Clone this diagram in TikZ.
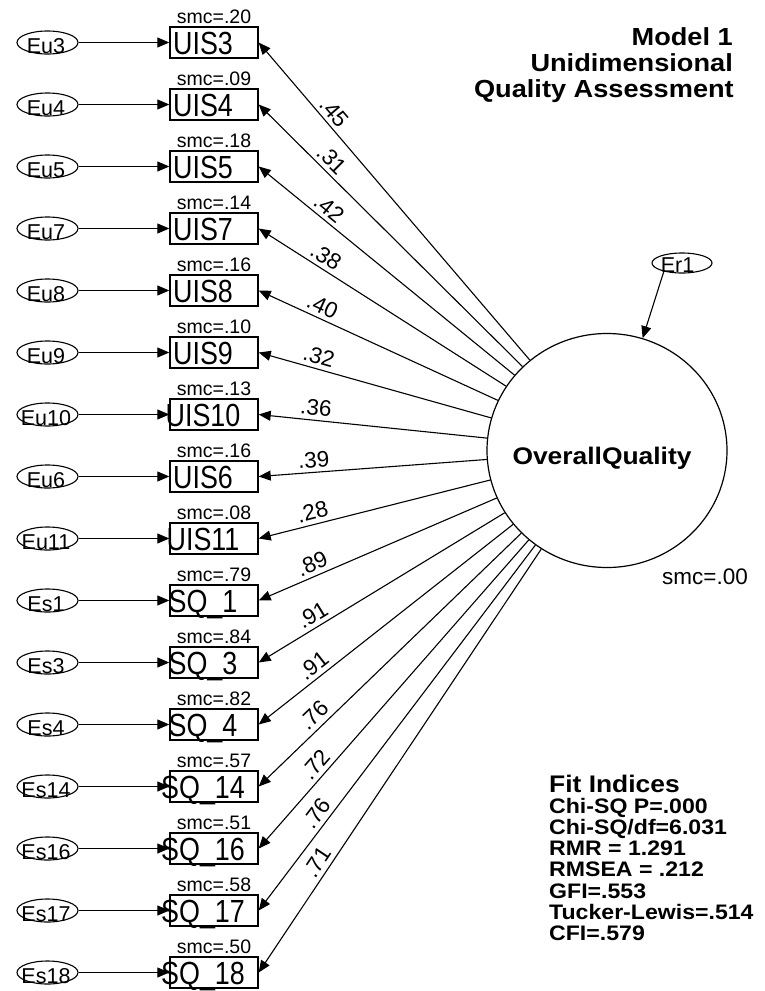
\documentclass[tikz,border=0pt]{standalone}
\usepackage{fontspec}
\setmainfont{Liberation Sans}
\newfontfamily\boxfont[FakeStretch=0.84]{Liberation Sans}
\newfontfamily\widefont[FakeStretch=1.1]{Liberation Sans}
\usetikzlibrary{arrows.meta,shapes.geometric}
\newcommand{\boxtext}[1]{\raisebox{-11.5pt}[0pt][0pt]{\makebox[0pt]{\boxfont\fontsize{32}{32}\selectfont #1\kern22pt}}}
\newcommand{\errtext}[1]{\raisebox{-10.5pt}[0pt][0pt]{\makebox[0pt]{\fontsize{21.5}{21.5}\selectfont #1\kern3pt}}}
\tikzset{
  obs/.style={draw, line width=1.4pt, rectangle, minimum width=88pt, minimum height=31pt, inner sep=0pt},
  errnode/.style={draw, line width=1.1pt, ellipse, minimum width=61pt, minimum height=23pt, inner sep=0pt},
  latent/.style={draw, line width=1.2pt, ellipse, minimum width=240pt, minimum height=234pt, inner sep=0pt},
  arr/.style={line width=1.1pt, -{Triangle[length=12pt,width=10pt]}},
  backarr/.style={line width=1.1pt, {Triangle[length=12pt,width=10pt]}-},
  coef/.style={sloped, above, pos=0.245, inner sep=4pt, font=\fontsize{22.5}{22.5}\selectfont},
  smcl/.style={anchor=base, inner sep=0pt, font=\fontsize{19.5}{19.5}\selectfont},
  titl/.style={anchor=base east, inner sep=0pt, font=\widefont\bfseries\fontsize{24.7}{24.7}\selectfont},
  fith/.style={anchor=base west, inner sep=0pt, font=\widefont\bfseries\fontsize{24}{24}\selectfont},
  fitl/.style={anchor=base west, inner sep=0pt, font=\widefont\bfseries\fontsize{21}{21}\selectfont},
}
\begin{document}
\begin{tikzpicture}[x=1pt,y=-1pt]
\useasboundingbox (0,0) rectangle (765,991);
\fill[white] (0,0) rectangle (765,991);
\node[latent] (OQ) at (607,450.5) {\raisebox{-14pt}[0pt][0pt]{\makebox[0pt]{\widefont\bfseries\fontsize{24}{24}\selectfont OverallQuality\kern10pt}}};
\node[errnode, minimum width=60pt, minimum height=20pt] (Er1) at (682,263) {\raisebox{-9pt}[0pt][0pt]{\makebox[0pt]{\fontsize{21.5}{21.5}\selectfont Er1\kern9pt}}};
\draw[arr] (Er1.205) -- (OQ);
\node[smcl, font=\fontsize{22.5}{22.5}\selectfont] (smcOQ) at (705,584) {smc=.00};
\foreach \i/\v/\s/\e/\c in {0/UIS3/.20/Eu3/.45, 1/UIS4/.09/Eu4/.31, 2/UIS5/.18/Eu5/.42, 3/UIS7/.14/Eu7/.38, 4/UIS8/.16/Eu8/.40, 5/UIS9/.10/Eu9/.32, 6/UIS10/.13/Eu10/.36, 7/UIS6/.16/Eu6/.39, 8/UIS11/.08/Eu11/.28, 9/SQ\_1/.79/Es1/.89, 10/SQ\_3/.84/Es3/.91, 11/SQ\_4/.82/Es4/.91, 12/SQ\_14/.57/Es14/.76, 13/SQ\_16/.51/Es16/.72, 14/SQ\_17/.58/Es17/.76, 15/SQ\_18/.50/Es18/.71}{
  \pgfmathsetmacro\yy{42.5+62*\i}
  \node[obs] (v\i) at (214,\yy) {\boxtext{\v}};
  \node[errnode] (e\i) at (47.5,\yy) {\errtext{\e}};
  \node[smcl] (s\i) at (214,{\yy-19.5}) {smc=\s};
  \draw[arr] (e\i) -- (v\i);
  \draw[backarr] (v\i.east) -- (OQ) node[coef] (c\i) {\c};
}
\node[titl] (t1) at (733,45) {Model 1};
\node[titl] (t2) at (733,71) {Unidimensional};
\node[titl] (t3) at (734,97) {Quality Assessment};
\node[fith] (f0) at (549,792) {Fit Indices};
\foreach \j/\t in {1/{Chi-SQ P=.000}, 2/{Chi-SQ/df=6.031}, 3/{RMR = 1.291}, 4/{RMSEA = .212}, 5/{GFI=.553}, 6/{Tucker-Lewis=.514}, 7/{CFI=.579}}{
  \node[fitl] (f\j) at (549,{792+21.2*\j}) {\t};
}
\end{tikzpicture}
\end{document}
